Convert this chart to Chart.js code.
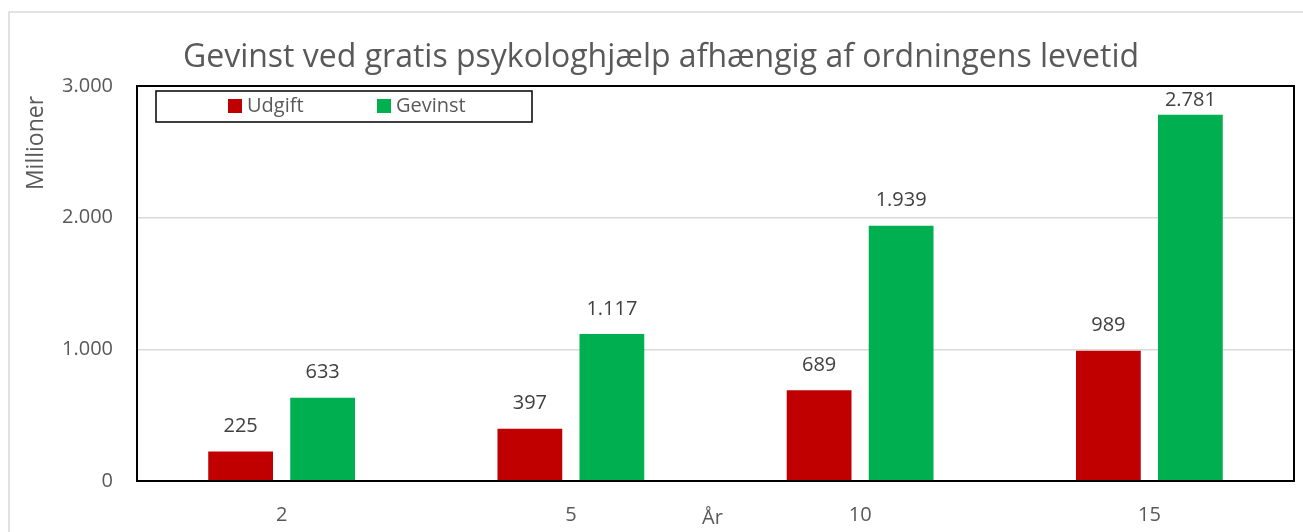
<!DOCTYPE html>
<html>
<head>
<meta charset="utf-8">
<script src="https://cdn.jsdelivr.net/npm/chart.js@4"></script>
<style>
  html, body { margin: 0; padding: 0; background: #fff; }
  #wrap { width: 1303px; height: 532px; position: relative; }
</style>
</head>
<body>
<div id="wrap"><canvas id="gevinstChart"></canvas></div>
<script>
// Chart data
const years = ['2', '5', '10', '15'];
const udgift = [225, 397, 689, 989];
const gevinst = [633, 1117, 1939, 2781];
const yTicks = [0, 1000, 2000, 3000];

const chartTitle = 'Gevinst ved gratis psykologhjælp afhængig af ordningens levetid';
const yTitle = 'Millioner';
const xTitle = 'År';

const FONT = '"Open Sans", "Liberation Sans", sans-serif';
const TEXT = '#595959';

function formatDa(v) {
    return v.toLocaleString('da-DK');
}

// outer frame, title, axis titles, plot frame, labels, legend
const decorPlugin = {
    id: 'decor',
    beforeDraw(chart) {
        const ctx = chart.ctx;
        ctx.save();
        ctx.fillStyle = '#fff';
        ctx.fillRect(0, 0, chart.width, chart.height);
        ctx.strokeStyle = '#d9d9d9';
        ctx.lineWidth = 1.5;
        ctx.strokeRect(9, 12, chart.width + 10, chart.height + 10);

        ctx.fillStyle = TEXT;
        ctx.font = '32px ' + FONT;
        ctx.textAlign = 'center';
        ctx.textBaseline = 'middle';
        ctx.fillText(chartTitle, 661, 58);

        ctx.font = '23px ' + FONT;
        ctx.translate(36, 143);
        ctx.rotate(-Math.PI / 2);
        ctx.fillText(yTitle, 0, 0);
        ctx.restore();

        ctx.save();
        ctx.fillStyle = TEXT;
        ctx.font = '20px ' + FONT;
        ctx.textAlign = 'center';
        ctx.textBaseline = 'middle';
        const a = chart.chartArea;
        ctx.fillText(xTitle, (a.left + a.right) / 2 - 3, 518);
        ctx.restore();
    },
    afterDatasetsDraw(chart) {
        const ctx = chart.ctx;
        const a = chart.chartArea;
        ctx.save();
        ctx.strokeStyle = '#000';
        ctx.lineWidth = 2;
        ctx.strokeRect(a.left, a.top, a.right - a.left, a.bottom - a.top);

        // value labels
        ctx.fillStyle = '#404040';
        ctx.font = '20px ' + FONT;
        ctx.textAlign = 'center';
        ctx.textBaseline = 'middle';
        chart.data.datasets.forEach((ds, i) => {
            chart.getDatasetMeta(i).data.forEach((bar, j) => {
                const y = Math.max(a.top + 14, bar.y - 25);
                ctx.fillText(formatDa(ds.data[j]), bar.x, y);
            });
        });

        // legend box
        ctx.fillStyle = '#fff';
        ctx.fillRect(156, 91, 376, 31);
        ctx.strokeStyle = '#000';
        ctx.lineWidth = 1.5;
        ctx.strokeRect(156, 91, 376, 31);
        const legendX = [228, 377];
        ctx.textAlign = 'left';
        ctx.font = '20px ' + FONT;
        chart.data.datasets.forEach((ds, i) => {
            ctx.fillStyle = ds.backgroundColor;
            ctx.fillRect(legendX[i], 99, 14, 14);
            ctx.fillStyle = TEXT;
            ctx.fillText(ds.label, legendX[i] + 19, 106);
        });
        ctx.restore();
    }
};

const ctx = document.getElementById('gevinstChart').getContext('2d');
new Chart(ctx, {
    type: 'bar',
    data: {
        labels: years,
        datasets: [
            {
                label: 'Udgift',
                data: udgift,
                backgroundColor: '#C00000',
                categoryPercentage: 0.567,
                barPercentage: 0.79
            },
            {
                label: 'Gevinst',
                data: gevinst,
                backgroundColor: '#00B050',
                categoryPercentage: 0.567,
                barPercentage: 0.79
            }
        ]
    },
    options: {
        responsive: true,
        maintainAspectRatio: false,
        animation: false,
        layout: {
            padding: { top: 86, right: 9, bottom: 0, left: 0 }
        },
        scales: {
            x: {
                grid: { display: false },
                border: { display: false },
                ticks: {
                    color: TEXT,
                    font: { family: FONT, size: 20 },
                    padding: 14
                },
                afterFit(scale) { scale.height = 51; }
            },
            y: {
                min: 0,
                max: 3000,
                afterBuildTicks(scale) {
                    scale.ticks = yTicks.map(v => ({ value: v }));
                },
                grid: {
                    color: '#d9d9d9',
                    lineWidth: 1.5,
                    drawTicks: false
                },
                border: { display: false },
                ticks: {
                    color: TEXT,
                    font: { family: FONT, size: 20 },
                    padding: 24,
                    callback: v => formatDa(v)
                },
                afterFit(scale) { scale.width = 137; }
            }
        },
        plugins: {
            legend: { display: false },
            tooltip: { enabled: false }
        }
    },
    plugins: [decorPlugin]
});
</script>
</body>
</html>
